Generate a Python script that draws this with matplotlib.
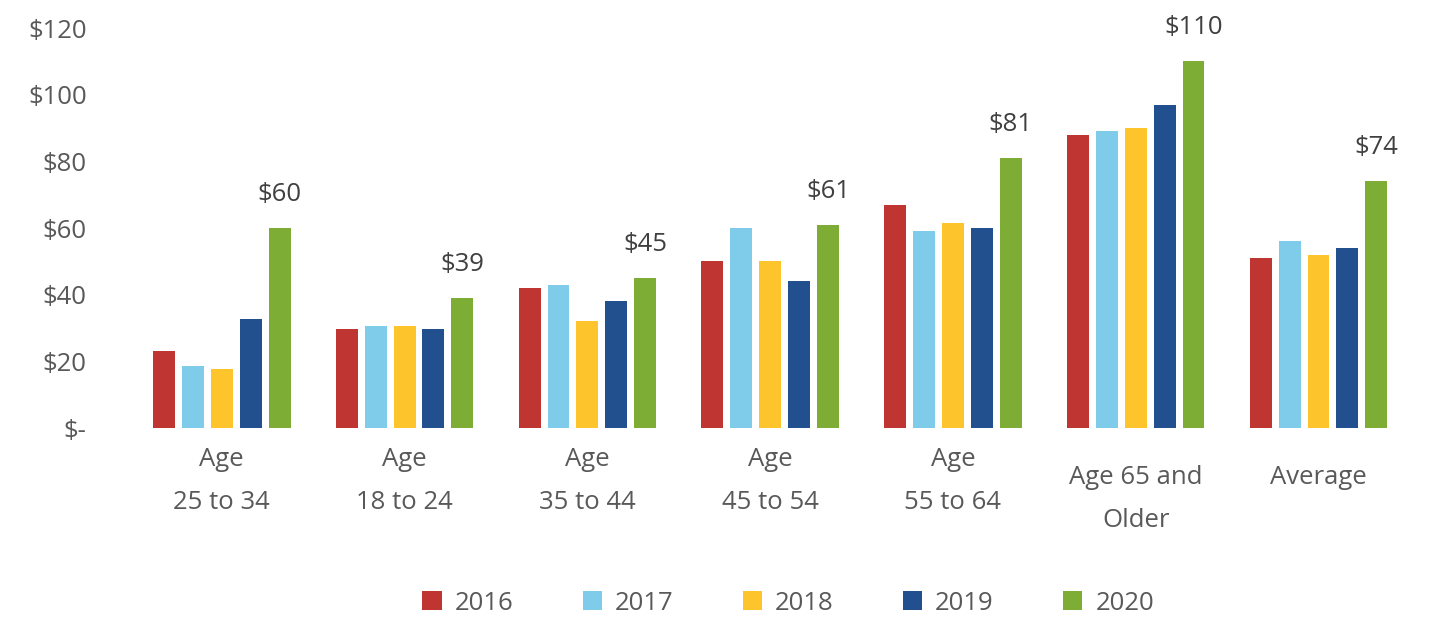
import matplotlib.pyplot as plt
import numpy as np

plt.rcParams['font.family'] = ['Open Sans', 'DejaVu Sans']

categories = ['Age\n25 to 34', 'Age\n18 to 24', 'Age\n35 to 44', 'Age\n45 to 54',
              'Age\n55 to 64', 'Age 65 and\nOlder', 'Average']
years = ['2016', '2017', '2018', '2019', '2020']
v2016 = [23, 29.7, 42, 50, 67, 88, 51]
v2017 = [18.6, 30.7, 43, 60, 59, 89, 56]
v2018 = [17.6, 30.7, 32, 50, 61.6, 90, 52]
v2019 = [32.7, 29.7, 38, 44, 60, 97, 54]
v2020 = [60, 39, 45, 61, 81, 110, 74]
colors = ['#BF3532', '#7ECCEA', '#FDC52B', '#22508F', '#7EAD35']

series = [v2016, v2017, v2018, v2019, v2020]
text_color = '#595959'
fs = 18.5

fig = plt.figure(figsize=(14.41, 6.20), dpi=100)
ax = fig.add_axes([145 / 1441, 1 - 428 / 620, (1441 - 145) / 1441, 400 / 620])

x = np.arange(len(categories))
step = 0.158
width = 0.12
for i, (vals, yr, c) in enumerate(zip(series, years, colors)):
    pos = x + (i - 2) * step
    ax.bar(pos, vals, width, color=c, label=yr)
    if yr == '2020':
        for px, v in zip(pos, vals):
            ax.annotate(f'${v:.0f}', (px, v), xytext=(0, 15), textcoords='offset points',
                        ha='center', va='bottom', fontsize=fs, color='#404040')

ax.set_ylim(0, 120)
ax.set_xlim(-0.42, 6.67)
ax.set_yticks(range(0, 121, 20))
ax.set_yticklabels(['$-'] + [f'${t}' for t in range(20, 121, 20)])
ax.tick_params(axis='y', length=0, pad=42, labelsize=fs, labelcolor=text_color)
ax.set_xticks([])
for s in ax.spines.values():
    s.set_visible(False)

# category labels under the groups
for xi, lab in zip(x, categories):
    top = -0.048 if lab.startswith('Age\n') else -0.092
    ax.text(xi, top, lab, transform=ax.get_xaxis_transform(), ha='center', va='top',
            fontsize=fs, color=text_color, linespacing=1.95)

fig.legend(loc='center', bbox_to_anchor=(0.547, 1 - 603 / 620), ncol=5, frameon=False,
           fontsize=fs, labelcolor=text_color, handlelength=0.75, handleheight=0.75,
           handletextpad=0.5, columnspacing=2.7)

fig.savefig('out.png', dpi=100)
